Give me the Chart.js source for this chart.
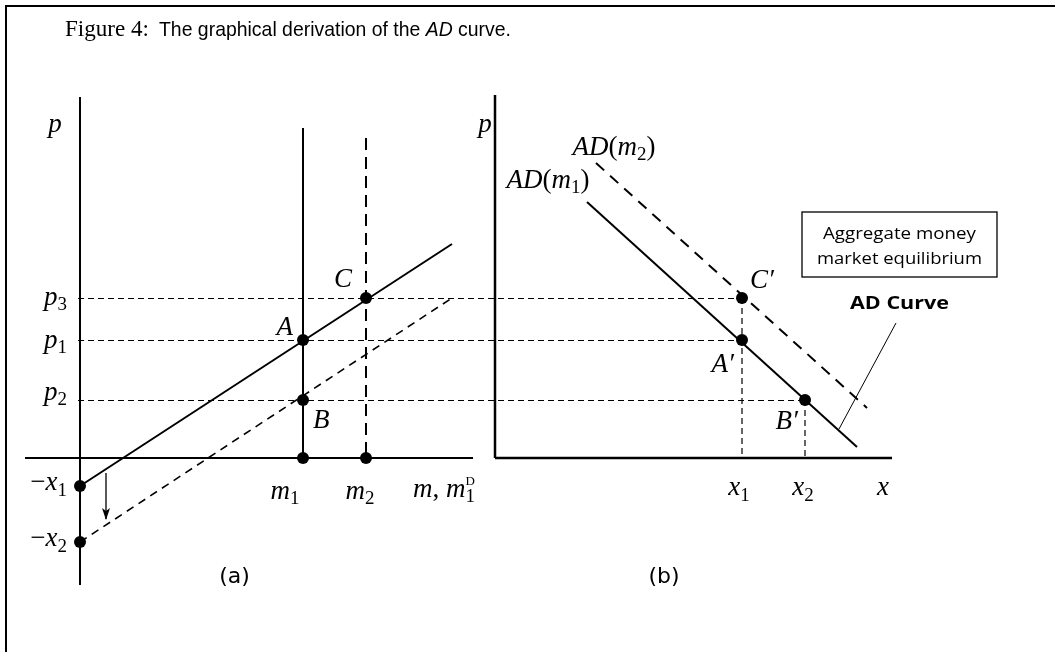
<!DOCTYPE html>
<html>
<head>
<meta charset="utf-8">
<title>AD curve derivation</title>
<script src="https://cdn.jsdelivr.net/npm/chart.js@4.4.1/dist/chart.umd.min.js"></script>
<style>
  html, body { margin: 0; padding: 0; background: #fff; }
  #wrap { position: relative; width: 1055px; height: 652px; overflow: hidden; }
  #frame { position: absolute; left: 5px; top: 5px; right: -4px; bottom: -4px;
           border-top: 2px solid #000; border-left: 2px solid #000; }
  #fig { position: absolute; left: 0; top: 0; }
</style>
</head>
<body>
<div id="wrap">
  <div id="frame"></div>
  <canvas id="fig" width="1055" height="652"></canvas>
</div>
<script>
// ---- Panel (a): money market, m on the horizontal axis, p on the vertical ----
const priceLevels   = [16.0, 11.8, 5.8];     // p3, p1, p2
const moneySupply   = [22.3, 28.6];          // m1, m2
const outputMarks   = [-2.8, -8.4];          // -x1, -x2 on the p axis
const demandAtX1    = [[0, -2.8], [37.2, 21.4]];
const demandAtX2    = [[0, -8.4], [37.2, 16.0]];
const supplyTops    = [33.0, 32.0];          // upper ends of m1, m2 verticals
const axisA_v       = [[0, 36.1], [0, -12.7]];
const axisA_h       = [[-5.5, 0], [39.3, 0]];
const shiftArrow    = [[2.6, -1.5], [2.6, -6.1]];

// ---- Panel (b): aggregate demand, x on the horizontal axis ----
const outputLevels  = [24.7, 31.0];          // x1, x2
const adM1          = [[9.2, 25.6], [36.2, 1.1]];
const adM2          = [[10.1, 29.5], [37.2, 5.0]];
const axisB_v       = [[0, 36.3], [0, 0]];
const axisB_h       = [[0, 0], [39.7, 0]];
const leaderLine    = [[40.1, 13.5], [34.4, 2.9]];

// ---- text ----
const titleLead     = 'Figure 4:';
const titleBody     = ['The graphical derivation of the ', 'AD', ' curve.'];
const boxLines      = ['Aggregate money', 'market equilibrium'];
const curveTag      = 'AD Curve';
const panelTags     = ['(a)', '(b)'];

const [P3, P1, P2] = priceLevels;
const [M1, M2] = moneySupply;
const [NX1, NX2] = outputMarks;
const [X1, X2] = outputLevels;

const pts = a => a.map(([x, y]) => ({ x, y }));
function seg(points, axis, width, dash) {
  return {
    data: pts(points), xAxisID: axis, yAxisID: 'y', showLine: true,
    borderColor: '#000', backgroundColor: '#000', borderWidth: width,
    borderDash: dash || [], pointRadius: 0, pointHoverRadius: 0,
    fill: false, tension: 0, clip: false
  };
}
function dots(points, axis) {
  return {
    data: pts(points), xAxisID: axis, yAxisID: 'y', showLine: false,
    pointRadius: 6, pointHoverRadius: 6, pointBackgroundColor: '#000',
    pointBorderWidth: 0, clip: false
  };
}

const datasets = [
  // equilibrium points
  dots([[M1, P1], [M1, P2], [M2, P3], [M1, 0], [M2, 0], [0, NX1], [0, NX2]], 'x'),
  dots([[X1, P3], [X1, P1], [X2, P2]], 'xb'),
  // panel (a)
  seg(axisA_v, 'x', 2),
  seg(axisA_h, 'x', 2.2),
  seg(demandAtX1, 'x', 2),
  seg(demandAtX2, 'x', 1.6, [8, 6]),
  seg([[M1, supplyTops[0]], [M1, 0]], 'x', 2),
  seg([[M2, supplyTops[1]], [M2, 0]], 'x', 2, [12, 7]),
  seg(shiftArrow, 'x', 1.3),
  // panel (b)
  seg(axisB_v, 'xb', 2.5),
  seg(axisB_h, 'xb', 2.5),
  seg(adM1, 'xb', 2),
  seg(adM2, 'xb', 2, [11, 8]),
  seg([[X1, P3], [X1, 0]], 'xb', 1.2, [6, 4]),
  seg([[X2, P2], [X2, 0]], 'xb', 1.2, [6, 4]),
  seg(leaderLine, 'xb', 1)
];

// fonts
const MI = 'italic 27px "Liberation Serif"';
const MR = '27px "Liberation Serif"';
const MS = '19px "Liberation Serif"';
const MSUP = '13px "Liberation Serif"';

// rich text: runs of [text, font, dy, stackOnPrevious]
function rich(ctx, parts, x, y, align) {
  let w = 0, last = 0;
  const pos = [];
  parts.forEach(pt => {
    ctx.font = pt[1];
    const tw = ctx.measureText(pt[0]).width;
    if (pt[3]) { pos.push(last); w = Math.max(w, last + tw); }
    else { pos.push(w); last = w; w += tw; }
  });
  const x0 = align === 'center' ? x - w / 2 : align === 'right' ? x - w : x;
  ctx.textAlign = 'left';
  ctx.textBaseline = 'alphabetic';
  parts.forEach((pt, i) => { ctx.font = pt[1]; ctx.fillText(pt[0], x0 + pos[i], y + (pt[2] || 0)); });
}
// single string squeezed/stretched to a width
function fitText(ctx, text, font, x, y, width, align) {
  ctx.save();
  ctx.font = font;
  const s = width / ctx.measureText(text).width;
  ctx.translate(x, y);
  ctx.scale(s, 1);
  ctx.textAlign = align;
  ctx.textBaseline = 'alphabetic';
  ctx.fillText(text, 0, 0);
  ctx.restore();
}

const figurePlugin = {
  id: 'figureDecor',
  beforeDatasetsDraw(chart) {
    const { ctx, scales } = chart;
    const sm = scales.x, sx = scales.xb, sp = scales.y;
    // price-level guides running from the p axis of (a) into (b)
    const ends = [X1, X1, X2];
    ctx.save();
    ctx.strokeStyle = '#000';
    ctx.lineWidth = 1;
    ctx.setLineDash([6, 4]);
    priceLevels.forEach((pv, i) => {
      const yy = Math.round(sp.getPixelForValue(pv)) + 0.5;
      ctx.beginPath();
      ctx.moveTo(sm.getPixelForValue(0) - 2, yy);
      ctx.lineTo(sx.getPixelForValue(ends[i]), yy);
      ctx.stroke();
    });
    ctx.restore();
  },
  afterDatasetsDraw(chart) {
    const { ctx, scales } = chart;
    const sm = scales.x, sx = scales.xb, sp = scales.y;
    const A = (m, p) => [sm.getPixelForValue(m), sp.getPixelForValue(p)];
    const B = (x, p) => [sx.getPixelForValue(x), sp.getPixelForValue(p)];
    ctx.save();
    ctx.fillStyle = '#000';
    ctx.strokeStyle = '#000';

    // arrowhead of the shift arrow
    const [ax, ay] = A(shiftArrow[1][0], shiftArrow[1][1]);
    ctx.beginPath();
    ctx.moveTo(ax, ay + 1);
    ctx.lineTo(ax - 4, ay - 11);
    ctx.lineTo(ax, ay - 8);
    ctx.lineTo(ax + 4, ay - 11);
    ctx.closePath();
    ctx.fill();

    // ---- title ----
    fitText(ctx, titleLead, '24px "Liberation Serif"', 65, 36, 84, 'left');
    {
      const fonts = ['21px "Liberation Sans"', 'italic 21px "Liberation Sans"', '21px "Liberation Sans"'];
      let total = 0;
      const ws = titleBody.map((t, i) => { ctx.font = fonts[i]; const w = ctx.measureText(t).width; total += w; return w; });
      const s = 352 / total;
      ctx.save();
      ctx.translate(159, 36);
      ctx.scale(s, 1);
      ctx.textAlign = 'left';
      ctx.textBaseline = 'alphabetic';
      let cx = 0;
      titleBody.forEach((t, i) => { ctx.font = fonts[i]; ctx.fillText(t, cx, 0); cx += ws[i]; });
      ctx.restore();
    }

    // ---- panel (a) labels ----
    const [a0x] = A(0, 0);
    rich(ctx, [['p', MI]], a0x - 25, 132, 'center');
    const pSubs = ['3', '1', '2'];
    const pDy = [7, 8, 0];
    priceLevels.forEach((pv, i) => {
      const [, yy] = A(0, pv);
      rich(ctx, [['p', MI], [pSubs[i], MS, 5]], a0x - 13, yy + pDy[i], 'right');
    });
    outputMarks.forEach((v, i) => {
      const [, yy] = A(0, v);
      rich(ctx, [['\u2212', MR], ['x', MI], [String(i + 1), MS, 6]], a0x - 13, yy + 4, 'right');
    });
    const [m1x, zy] = A(M1, 0);
    const [m2x] = A(M2, 0);
    rich(ctx, [['m', MI], ['1', MS, 5]], m1x - 18, zy + 41, 'center');
    rich(ctx, [['m', MI], ['2', MS, 5]], m2x - 6, zy + 41, 'center');
    const [haEnd] = A(axisA_h[1][0], 0);
    rich(ctx, [['m', MI], [', ', MR], ['m', MI], ['1', MS, 5], ['D', MSUP, -12, true]], haEnd - 60, zy + 39, 'left');
    const [cx1, cy1] = A(M2, P3);
    rich(ctx, [['C', MI]], cx1 - 14, cy1 - 11, 'right');
    const [axA, ayA] = A(M1, P1);
    rich(ctx, [['A', MI]], axA - 10, ayA - 5, 'right');
    const [bxA, byA] = A(M1, P2);
    rich(ctx, [['B', MI]], bxA + 10, byA + 28, 'left');

    // ---- panel (b) labels ----
    const [b0x] = B(0, 0);
    rich(ctx, [['p', MI]], b0x - 10, 132, 'center');
    const [x1x] = B(X1, 0);
    const [x2x] = B(X2, 0);
    rich(ctx, [['x', MI], ['1', MS, 6]], x1x - 3, zy + 37, 'center');
    rich(ctx, [['x', MI], ['2', MS, 6]], x2x - 2, zy + 37, 'center');
    const [hbEnd] = B(axisB_h[1][0], 0);
    rich(ctx, [['x', MI]], hbEnd - 9, zy + 37, 'center');
    const [ad2x, ad2y] = B(adM2[0][0], adM2[0][1]);
    rich(ctx, [['AD', MI], ['(', MR], ['m', MI], ['2', MS, 5], [')', MR]], ad2x + 18, ad2y - 8, 'center');
    const [ad1x, ad1y] = B(adM1[0][0], adM1[0][1]);
    rich(ctx, [['AD', MI], ['(', MR], ['m', MI], ['1', MS, 5], [')', MR]], ad1x - 39, ad1y - 14, 'center');
    const [cpx, cpy] = B(X1, P3);
    rich(ctx, [['C\u2032', MI]], cpx + 8, cpy - 10, 'left');
    const [apx, apy] = B(X1, P1);
    rich(ctx, [['A\u2032', MI]], apx - 8, apy + 32, 'right');
    const [bpx, bpy] = B(X2, P2);
    rich(ctx, [['B\u2032', MI]], bpx - 7, bpy + 29, 'right');

    // annotation box and tag
    const [lx, ly] = B(leaderLine[0][0], leaderLine[0][1]);
    const bl = lx - 94, br = lx + 101, bt = ly - 111, bb = ly - 46;
    ctx.lineWidth = 1.3;
    ctx.strokeRect(bl, bt, br - bl, bb - bt);
    const bc = (bl + br) / 2;
    fitText(ctx, boxLines[0], '17px "Open Sans"', bc, bt + 27, 153, 'center');
    fitText(ctx, boxLines[1], '17px "Open Sans"', bc, bt + 52, 165, 'center');
    fitText(ctx, curveTag, 'bold 18px "Open Sans"', bc, ly - 14, 99, 'center');

    // panel tags
    ctx.font = '22px "DejaVu Sans"';
    ctx.textAlign = 'center';
    ctx.fillText(panelTags[0], 234.5, 583);
    ctx.fillText(panelTags[1], 664, 583);
    ctx.restore();
  }
};

new Chart(document.getElementById('fig'), {
  type: 'scatter',
  data: { datasets },
  options: {
    responsive: false,
    animation: false,
    devicePixelRatio: 1,
    events: [],
    layout: { padding: 0, autoPadding: false },
    plugins: { legend: { display: false }, tooltip: { enabled: false }, title: { display: false } },
    scales: {
      x:  { type: 'linear', axis: 'x', display: false, min: -8.0,  max: 97.5 },
      xb: { type: 'linear', axis: 'x', display: false, min: -49.5, max: 56.0 },
      y:  { type: 'linear', axis: 'y', display: false, min: -19.4, max: 45.8 }
    }
  },
  plugins: [figurePlugin]
});
</script>
</body>
</html>
